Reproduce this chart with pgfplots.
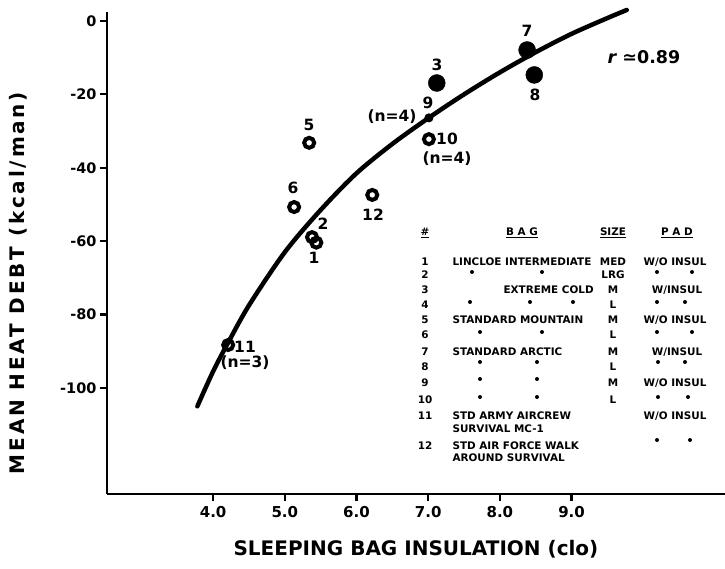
\documentclass[border=0pt]{standalone}
\usepackage{fontspec}
\setmainfont{DejaVu Sans}
\usepackage{pgfplots}
\pgfplotsset{compat=1.18}
\usetikzlibrary{calc}
\begin{document}
\begin{tikzpicture}[font=\bfseries]
\begin{axis}[
  scale only axis, width=618pt, height=482pt,
  xmin=2.52, xmax=11.14, ymin=-128.9, ymax=2.45,
  axis x line=bottom, axis y line=left,
  axis line style={-, line width=2.6pt},
  xtick={4,5,6,7,8,9}, xticklabels={4.0,5.0,6.0,7.0,8.0,9.0},
  ytick={-100,-80,-60,-40,-20,0},
  tick align=outside, major tick length=7pt,
  tick style={line width=2.2pt, black},
  /pgf/number format/assume math mode=true,
  x tick label style={font=\bfseries\fontsize{15}{15}\selectfont, yshift=-2pt},
  y tick label style={font=\bfseries\fontsize{14.5}{14.5}\selectfont},
  xlabel={SLEEPING BAG INSULATION (clo)},
  ylabel={MEAN HEAT DEBT (kcal/man)},
  xlabel style={at={(axis description cs:0.5,0)}, anchor=center, yshift=-55pt, font=\bfseries\fontsize{20}{20}\selectfont},
  ylabel style={at={(axis description cs:-0.144,0.4378)}, anchor=center, font=\bfseries\fontsize{20}{20}\selectfont\addfontfeatures{LetterSpace=14}},
  clip=false]
\coordinate (O) at (rel axis cs:0,0);
% fitted curve
\addplot[line width=4.5pt, smooth, no marks, line cap=round] coordinates {
 (3.78,-105) (4.0,-95.5) (4.2,-88) (4.5,-77.5) (5.0,-63) (5.5,-51.5) (6.0,-41.5)
 (6.5,-33.5) (7.0,-26.5) (7.5,-20) (8.0,-14) (8.5,-8.5) (9.0,-3.5) (9.5,0.8) (9.77,3)};
% open circles (W/O insulation)
\addplot[only marks, mark=o, mark size=5pt, line width=4pt] coordinates {
 (4.21,-88.3) (5.38,-58.9) (5.44,-60.4) (5.13,-50.7) (5.34,-33.2) (6.22,-47.4) (7.01,-32.2)};
\addplot[only marks, mark=o, mark size=3.3pt, line width=2.3pt] coordinates {
 (7.01,-26.4)};
% filled circles (W/ insulation)
\addplot[only marks, mark=*, mark size=8.5pt] coordinates {
 (7.12,-16.9) (8.38,-7.9) (8.48,-14.7)};
\end{axis}
\begin{scope}[shift={($(O)+(-107pt,494pt)$)}, x=1pt, y=-1pt]
 \begin{scope}[font=\bfseries\fontsize{15.5}{15.5}\selectfont]
  \node at (527,31) {7};
  \node at (535,95) {8};
  \node at (437,65) {3};
  \node at (428,103) {9};
  \node at (392,117) {(n=4)};
  \node at (447,139) {10};
  \node at (447,159) {(n=4)};
  \node at (309,125) {5};
  \node at (293,188) {6};
  \node at (323,224) {2};
  \node at (314,258) {1};
  \node at (373,215) {12};
  \node at (245,347) {11};
  \node at (245,363) {(n=3)};
  \node[font=\bfseries\fontsize{17.5}{17.5}\selectfont] at (644,57) {{\itshape r} ≃0.89};
 \end{scope}
 \begin{scope}[font=\bfseries\fontsize{10.4}{10.4}\selectfont]
  % headers
  \node at (425,233) {\underline{\#}};
  \node at (522,233) {\underline{B A G}};
  \node at (613,233) {\underline{SIZE}};
  \node at (677,233) {\underline{P A D}};
  % numbers
  \node at (425,262) {1};
  \node at (425,275) {2};
  \node at (425,290) {3};
  \node at (425,305) {4};
  \node at (425,320) {5};
  \node at (425,335) {6};
  \node at (425,352) {7};
  \node at (425,367) {8};
  \node at (425,383) {9};
  \node at (425,400) {10};
  \node at (425,416) {11};
  \node at (425,446) {12};
  % bag
  \node[anchor=west] at (449,262) {LINCLOE INTERMEDIATE};
  \node[anchor=west] at (500,290) {EXTREME COLD};
  \node[anchor=west] at (449,320) {STANDARD MOUNTAIN};
  \node[anchor=west] at (449,352) {STANDARD ARCTIC};
  \node[anchor=west] at (449,416) {STD ARMY AIRCREW};
  \node[anchor=west] at (449,429) {SURVIVAL MC-1};
  \node[anchor=west] at (449,446) {STD AIR FORCE WALK};
  \node[anchor=west] at (449,458) {AROUND SURVIVAL};
  % size
  \node at (613,262) {MED};
  \node at (613,275) {LRG};
  \node at (613,290) {M};
  \node at (613,305) {L};
  \node at (613,320) {M};
  \node at (613,335) {L};
  \node at (613,352) {M};
  \node at (613,367) {L};
  \node at (613,383) {M};
  \node at (613,400) {L};
  % pad
  \node at (675,262) {W/O INSUL};
  \node at (677,290) {W/INSUL};
  \node at (675,320) {W/O INSUL};
  \node at (677,352) {W/INSUL};
  \node at (675,383) {W/O INSUL};
  \node at (675,416) {W/O INSUL};
  % ditto marks
  \foreach \x/\y in {472/272,542/272,657/272,692/272,
                     470/302,530/302,573/302,657/302,685/302,
                     480/332,542/332,657/332,692/332,
                     480/362,537/362,658/362,685/362,
                     480/379,537/379,
                     480/397,537/397,658/397,688/397,
                     657/440,690/440}
    \fill (\x,\y) circle (2pt);
 \end{scope}
\end{scope}
\pgfresetboundingbox
\path[use as bounding box] ($(O)+(-107pt,-74pt)$) rectangle ($(O)+(618pt,494pt)$);
\end{tikzpicture}
\end{document}
